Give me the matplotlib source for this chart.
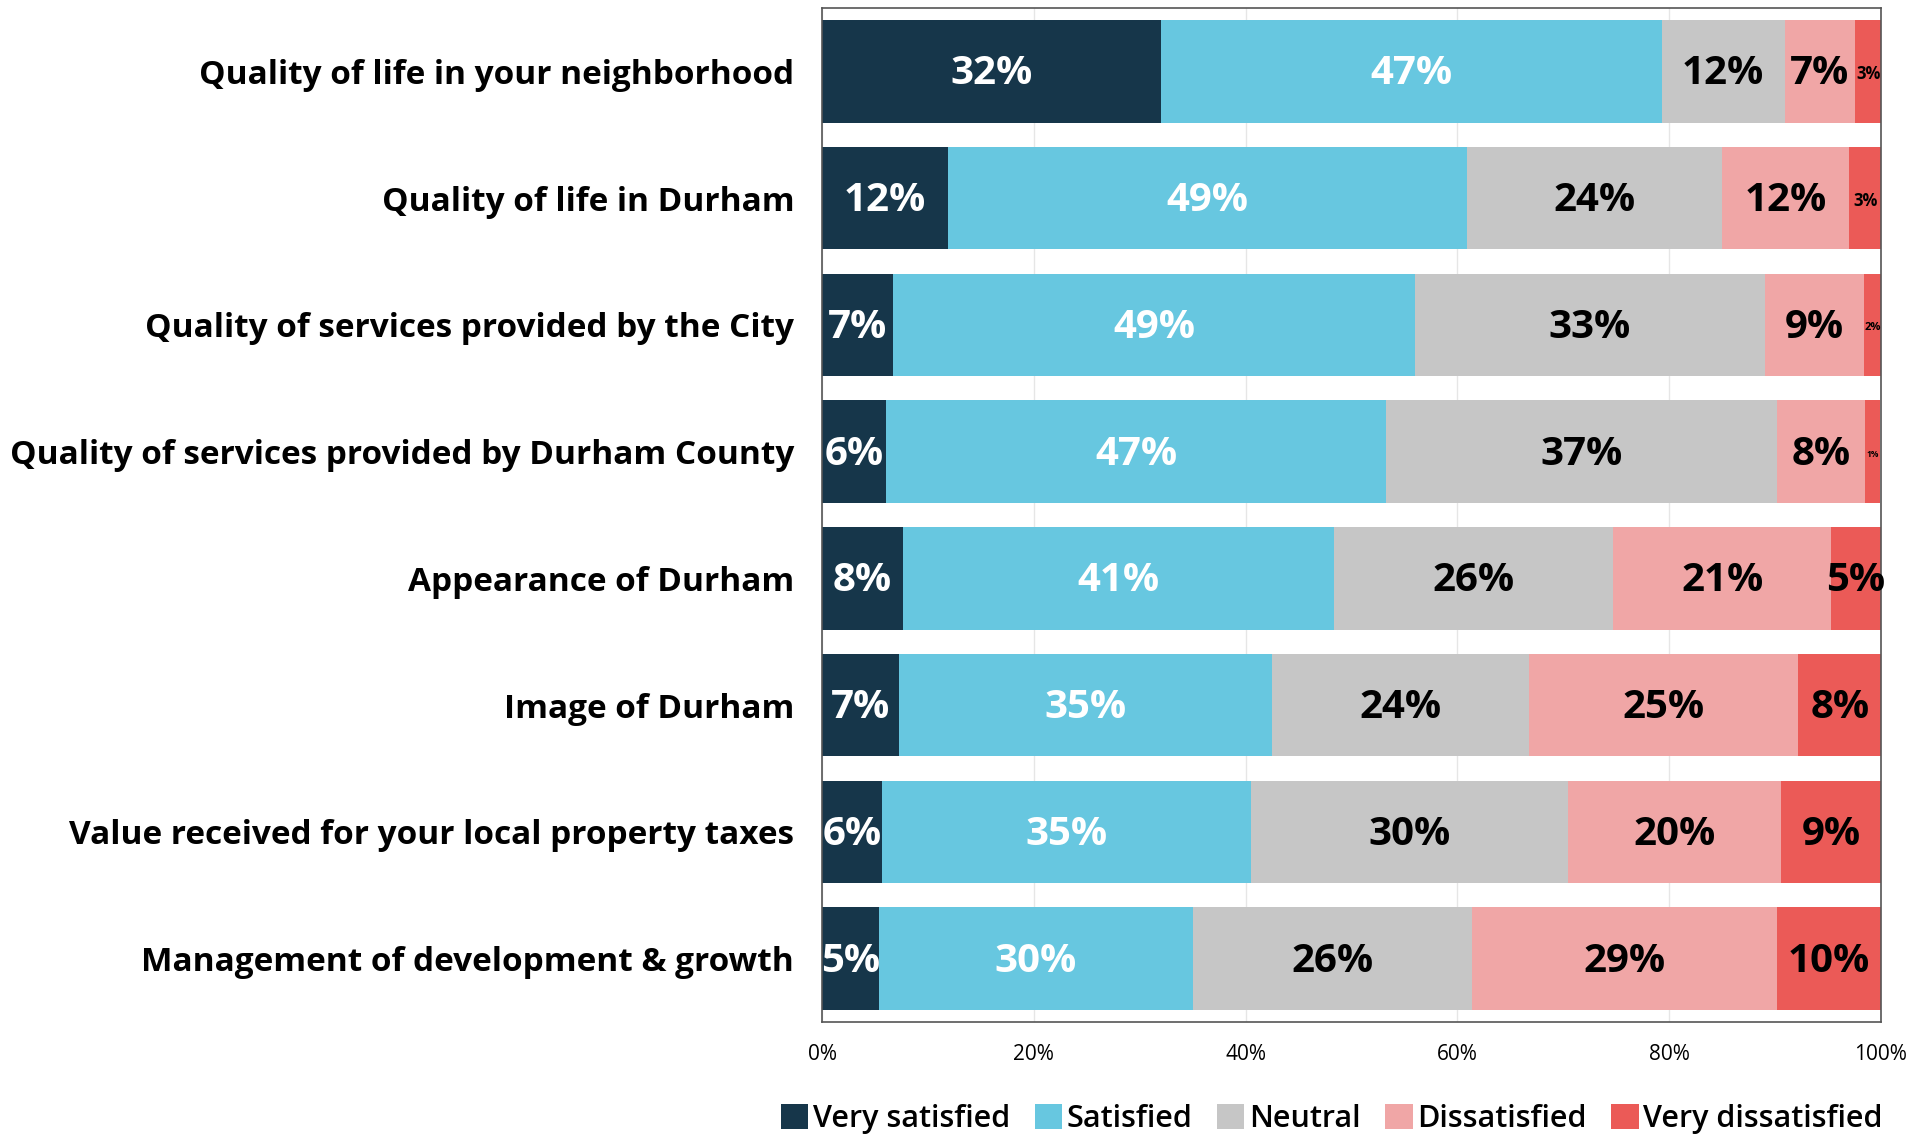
import numpy as np
import matplotlib.pyplot as plt

plt.rcParams['font.family'] = ['Open Sans', 'DejaVu Sans']

categorias = [
    "Quality of life in your neighborhood",
    "Quality of life in Durham",
    "Quality of services provided by the City",
    "Quality of services provided by Durham County",
    "Appearance of Durham",
    "Image of Durham",
    "Value received for your local property taxes",
    "Management of development & growth",
]
series = ["Very satisfied", "Satisfied", "Neutral", "Dissatisfied", "Very dissatisfied"]

muy_satisfecho = [32.0, 11.9, 6.7, 6.0, 7.6, 7.3, 5.7, 5.4]
satisfecho = [47.3, 49.0, 49.3, 47.3, 40.7, 35.2, 34.8, 29.6]
neutral = [11.6, 24.1, 33.0, 36.9, 26.4, 24.3, 29.9, 26.4]
insatisfecho = [6.6, 12.0, 9.4, 8.3, 20.6, 25.4, 20.2, 28.8]
muy_insatisfecho = [2.6, 3.0, 1.6, 1.4, 4.7, 7.8, 9.4, 9.8]

colores = ["#16364a", "#67c7e0", "#c6c6c6", "#f0a6a6", "#eb5a57"]
color_texto = ["white", "white", "black", "black", "black"]

datos = np.array([muy_satisfecho, satisfecho, neutral, insatisfecho, muy_insatisfecho])

fig = plt.figure(figsize=(19.31, 11.37), dpi=100)
ax = fig.add_axes([0.4257, 0.1011, 0.5484, 0.8919])

y = np.arange(len(categorias))
izq = np.zeros(len(categorias))
for i, nombre in enumerate(series):
    ax.barh(y, datos[i], left=izq, height=0.81, color=colores[i], label=nombre, zorder=2)
    for j, v in enumerate(datos[i]):
        # etiquetas chicas para los segmentos angostos
        if v < 1.5:
            fs = 6
        elif v < 2.0:
            fs = 8
        elif v < 4.0:
            fs = 12
        else:
            fs = 29
        ax.text(izq[j] + v / 2, y[j] + 0.02, f"{v:.0f}%", ha="center", va="center",
                color=color_texto[i], fontsize=fs, fontweight="bold", zorder=3)
    izq += datos[i]

ax.set_xlim(0, 100)
ax.set_ylim(len(categorias) - 0.5, -0.5)
ax.set_yticks(y)
ax.set_yticklabels(categorias, fontsize=24, fontweight="bold")
ax.tick_params(axis="y", length=0, pad=20)
ax.set_xticks(np.arange(0, 101, 20))
ax.set_xticklabels([f"{t}%" for t in range(0, 101, 20)], fontsize=15)
ax.tick_params(axis="x", length=0, pad=16)
ax.grid(axis="x", color="#e6e6e6", linewidth=1, zorder=0)
for s in ax.spines.values():
    s.set_color("#555555")
    s.set_linewidth(1.2)

fig.legend(loc="center right", bbox_to_anchor=(0.975, 0.016), ncol=5, frameon=False,
           prop={"size": 22, "weight": "semibold"}, handlelength=0.9, handleheight=0.9,
           handletextpad=0.15, columnspacing=0.8, borderpad=0, borderaxespad=0)

fig.savefig("out.png", dpi=100)
